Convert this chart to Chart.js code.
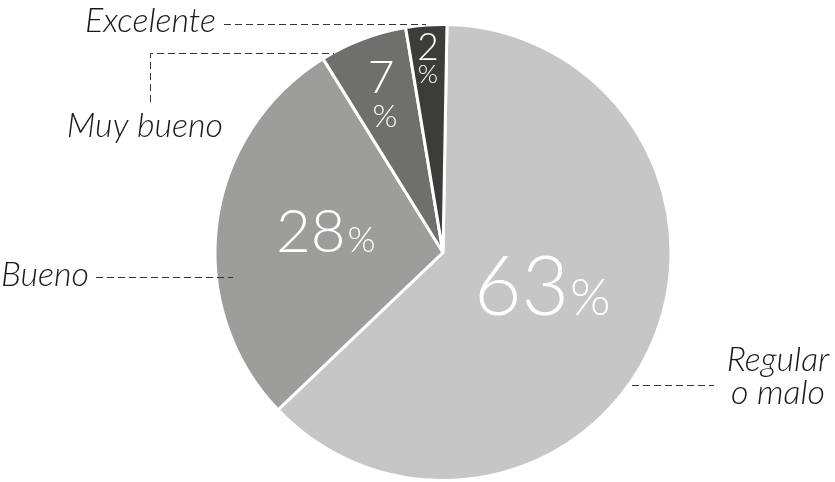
<!DOCTYPE html>
<html>
<head>
<meta charset="utf-8">
<script src="https://cdn.jsdelivr.net/npm/chart.js@4/dist/chart.umd.min.js"></script>
<style>
  html, body { margin: 0; padding: 0; background: #fff; }
  #wrap { position: relative; width: 835px; height: 482px; }
</style>
</head>
<body>
<div id="wrap"><canvas id="pieChart"></canvas></div>
<script>
// Données du graphique
const categories = ['Regular o malo', 'Bueno', 'Muy bueno', 'Excelente'];
const values = [62.6, 28.3, 6.2, 2.9];     // taille des parts
const pctText = ['63', '28', '7', '2'];     // pourcentages affichés
const colors = ['#c6c6c6', '#9d9d9c', '#6f6f6e', '#3c3c3b'];

// Étiquettes dans les parts (pourcentages)
const pctLabels = {
    id: 'pctLabels',
    afterDatasetsDraw(chart) {
        const ctx = chart.ctx;
        const arc = chart.getDatasetMeta(0).data[0];
        const cx = arc.x, cy = arc.y;
        ctx.save();
        ctx.fillStyle = '#ffffff';
        ctx.textBaseline = 'alphabetic';

        // 63%
        ctx.textAlign = 'left';
        ctx.font = '300 82px Lato';
        ctx.fillText(pctText[0], cx + 31, cy + 62);
        let w = ctx.measureText(pctText[0]).width;
        ctx.font = '300 52px Lato';
        ctx.fillText('%', cx + 31 + w + 1, cy + 62);

        // 28%
        ctx.font = '300 60px Lato';
        ctx.fillText(pctText[1], cx - 167, cy - 1);
        w = ctx.measureText(pctText[1]).width;
        ctx.font = '300 36px Lato';
        ctx.fillText('%', cx - 167 + w + 2, cy - 1);

        // 7 / %
        ctx.textAlign = 'center';
        ctx.font = '300 46px Lato';
        ctx.fillText(pctText[2], cx - 62, cy - 160);
        ctx.font = '300 32px Lato';
        ctx.fillText('%', cx - 58, cy - 126);

        // 2 / %
        ctx.font = '300 37px Lato';
        ctx.fillText(pctText[3], cx - 15, cy - 193);
        ctx.font = '300 26px Lato';
        ctx.fillText('%', cx - 15, cy - 170);
        ctx.restore();
    }
};

// Étiquettes externes avec lignes pointillées
const outerLabels = {
    id: 'outerLabels',
    afterDraw(chart) {
        const ctx = chart.ctx;
        ctx.save();
        ctx.strokeStyle = '#333333';
        ctx.lineWidth = 1;
        ctx.setLineDash([7, 4]);

        function path(points) {
            ctx.beginPath();
            ctx.moveTo(points[0][0], points[0][1]);
            for (let i = 1; i < points.length; i++) ctx.lineTo(points[i][0], points[i][1]);
            ctx.stroke();
        }
        path([[224, 24.5], [426, 24.5]]);
        path([[150.5, 102], [150.5, 53.5], [334, 53.5]]);
        path([[96, 277.5], [233, 277.5]]);
        path([[632, 385.5], [714, 385.5]]);

        ctx.fillStyle = '#1a1a1a';
        ctx.font = 'italic 300 34px Lato';
        ctx.textAlign = 'right';
        ctx.fillText(categories[3], 216, 32);
        ctx.fillText(categories[2], 223, 137);
        ctx.fillText(categories[1], 89, 286);
        ctx.textAlign = 'center';
        ctx.fillText('Regular', 778, 371);
        ctx.fillText('o malo', 778, 404);
        ctx.restore();
    }
};

new Chart(document.getElementById('pieChart'), {
    type: 'pie',
    data: {
        labels: categories,
        datasets: [{
            data: values,
            backgroundColor: colors,
            borderColor: '#ffffff',
            borderWidth: 3
        }]
    },
    options: {
        responsive: true,
        maintainAspectRatio: false,
        animation: false,
        rotation: 1,
        layout: {
            padding: { left: 213, right: 162, top: 23, bottom: 0 }
        },
        plugins: {
            legend: { display: false },
            tooltip: { enabled: false }
        }
    },
    plugins: [pctLabels, outerLabels]
});
</script>
</body>
</html>
